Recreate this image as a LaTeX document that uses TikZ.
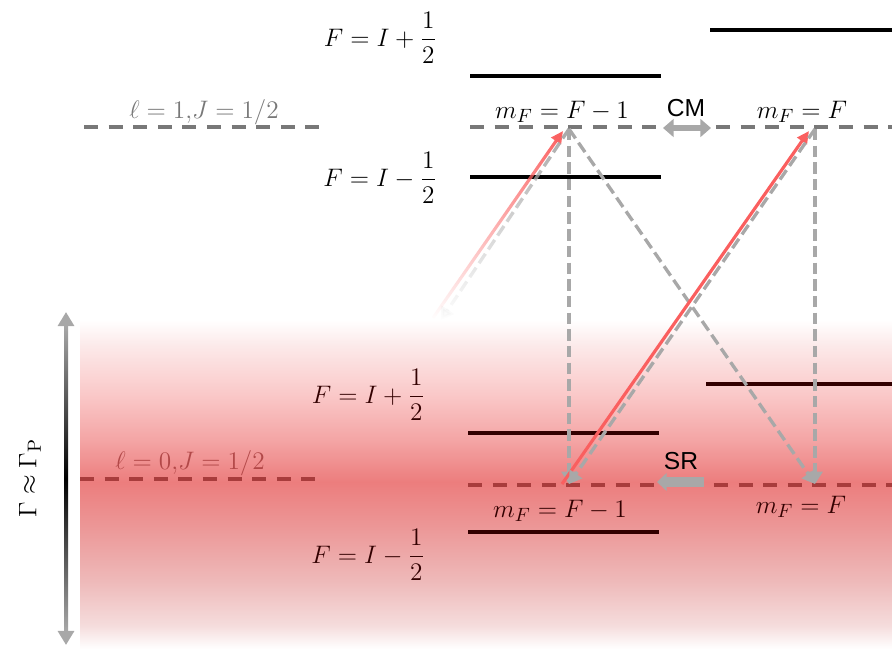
\documentclass[tikz,border=0pt]{standalone}
\usepackage{amsmath}
\usepackage{fontspec}
\newfontfamily\sinserif{Liberation Sans}
\usetikzlibrary{arrows.meta,fadings}

% Colores de la figura
\definecolor{nivelgris}{RGB}{120,120,120}
\definecolor{flechagris}{RGB}{168,168,168}
\definecolor{rojolaser}{RGB}{250,95,95}
\definecolor{rojooscuro}{RGB}{50,0,0}
\definecolor{rojonivel}{RGB}{168,60,60}
\definecolor{franjaA}{RGB}{252,234,234}
\definecolor{franjaB}{RGB}{250,200,200}
\definecolor{franjaC}{RGB}{244,165,165}
\definecolor{franjaD}{RGB}{236,125,125}
\definecolor{franjaE}{RGB}{236,150,150}
\definecolor{franjaF}{RGB}{238,185,185}
\definecolor{franjaG}{RGB}{245,220,220}

% Franja roja del nivel fundamental (ancho de línea)
\pgfdeclareverticalshading{franja}{100bp}{color(0bp)=(white); color(25bp)=(white);
  color(28.6bp)=(franjaG); color(35.4bp)=(franjaF); color(43.8bp)=(franjaE);
  color(50.4bp)=(franjaD); color(56.8bp)=(franjaC); color(63.6bp)=(franjaB);
  color(71.2bp)=(franjaA); color(75bp)=(white); color(100bp)=(white)}
% Eje de la flecha Gamma (gris - negro - gris)
\pgfdeclareverticalshading{eje}{100bp}{color(0bp)=(flechagris); color(25bp)=(flechagris);
  color(50bp)=(black); color(75bp)=(flechagris); color(100bp)=(flechagris)}

\begin{document}
\begin{tikzpicture}[x=0.02cm, y=-0.02cm,
        % Niveles hiperfinos (líneas continuas)
        nivel/.style={line width=2.2pt},
        % Niveles finos (líneas discontinuas)
        base/.style={line width=1.8pt, dash pattern=on 8pt off 6pt},
        % Decaimiento espontáneo (flechas grises)
        decae/.style={flechagris, line width=1.9pt, dash pattern=on 6.5pt off 3pt,
            -{Triangle[length=7pt,width=8.5pt]}},
        % Excitación del láser (flechas rojas)
        laser/.style={rojolaser, line width=1.8pt, -{Triangle[length=7pt,width=6.5pt]}},
        % Etiquetas de los estados
        etiq/.style={font=\fontsize{15.5}{18}\selectfont, inner sep=0pt},
        sinetiq/.style={font=\sinserif\fontsize{14}{16}\selectfont, inner sep=0pt}
    ]
    \useasboundingbox (0,0) rectangle (892,649);

    % Franja roja y flecha de la anchura Gamma
    \shade[shading=franja] (80,320) rectangle (892,649);
    \coordinate (gamS) at (66,312);
    \coordinate (gamI) at (66,645);
    \draw[flechagris, line width=2.3pt,
        {Triangle[length=8pt,width=9pt]}-{Triangle[length=8pt,width=9pt]}] (gamS) -- (gamI);
    \shade[shading=eje] (64,326) rectangle (68,631);
    \node[etiq, rotate=90] (gam) at (30,478) {$\Gamma \approx \Gamma_{\mathrm{P}}$};

    % Nivel excitado l = 1
    \draw[nivel] (710,30) -- (892,30);
    \draw[nivel] (470,76) -- (661,76);
    \draw[nivel] (470,177) -- (661,177);
    \draw[base, nivelgris] (84,127) -- (325,127);
    \draw[base, nivelgris] (470,127) -- (892,127);

    % Nivel fundamental l = 0
    \draw[nivel, rojooscuro] (706,384) -- (892,384);
    \draw[nivel, rojooscuro] (468,433) -- (659,433);
    \draw[nivel, rojooscuro] (468,532) -- (659,532);
    \draw[base, rojonivel] (80,479) -- (320,479);
    \draw[base, rojonivel] (468,485) -- (892,485);

    % Estados m_F
    \coordinate (eA) at (569,129);
    \coordinate (eB) at (815,129);
    \coordinate (gA) at (569,484);
    \coordinate (gB) at (815,484);
    \coordinate (eAr) at (563,131);
    \coordinate (eBr) at (809,131);
    \coordinate (gAr) at (562,484);
    \coordinate (gL) at (441,320);
    \coordinate (gLr) at (433,318);

    % Flechas de excitación y decaimiento
    \draw[laser, path fading=south] (gLr) -- (eAr);
    \draw[decae, path fading=south] (eA) -- (gL);
    \draw[decae] (eA) -- (gA);
    \draw[decae] (eA) -- (gB);
    \draw[decae] (eB) -- (gB);
    \draw[laser] (gAr) -- (eBr);
    \draw[decae] (eB) -- (gA);

    % Mezcla de coherencias (CM) y relajación (SR)
    \coordinate (cmI) at (663,128);
    \coordinate (cmD) at (711,128);
    \draw[flechagris, line width=3pt,
        {Triangle[length=6pt,width=10pt]}-{Triangle[length=6pt,width=10pt]}] (cmI) -- (cmD);
    \node[sinetiq] (cm) at (686,108) {CM};
    \coordinate (srD) at (704,482);
    \coordinate (srI) at (657,482);
    \draw[flechagris, line width=5.5pt, -{Triangle[length=5.5pt,width=10pt]}] (srD) -- (srI);
    \node[sinetiq] (sr) at (681,461) {SR};

    % Etiquetas de los niveles
    \node[etiq, anchor=east] (fSupE) at (437,38) {$F = I + \dfrac{1}{2}$};
    \node[etiq, anchor=east] (fInfE) at (437,178) {$F = I - \dfrac{1}{2}$};
    \node[etiq, anchor=base, text=nivelgris] (lUno) at (204,118) {$\ell = 1{,}J = 1/2$};
    \node[etiq, anchor=base] (mEA) at (562,118) {$m_F = F - 1$};
    \node[etiq, anchor=base] (mEB) at (802,118) {$m_F = F$};
    \node[etiq, anchor=east, text=rojooscuro] (fSupG) at (425,395) {$F = I + \dfrac{1}{2}$};
    \node[etiq, anchor=east, text=rojooscuro] (fInfG) at (425,555) {$F = I - \dfrac{1}{2}$};
    \node[etiq, anchor=base, text=rojonivel, opacity=0.85] (lCero) at (190,469) {$\ell = 0{,}J = 1/2$};
    \node[etiq, anchor=base, text=rojooscuro] (mGA) at (560,517) {$m_F = F - 1$};
    \node[etiq, anchor=base, text=rojooscuro] (mGB) at (801,513) {$m_F = F$};
\end{tikzpicture}
\end{document}
